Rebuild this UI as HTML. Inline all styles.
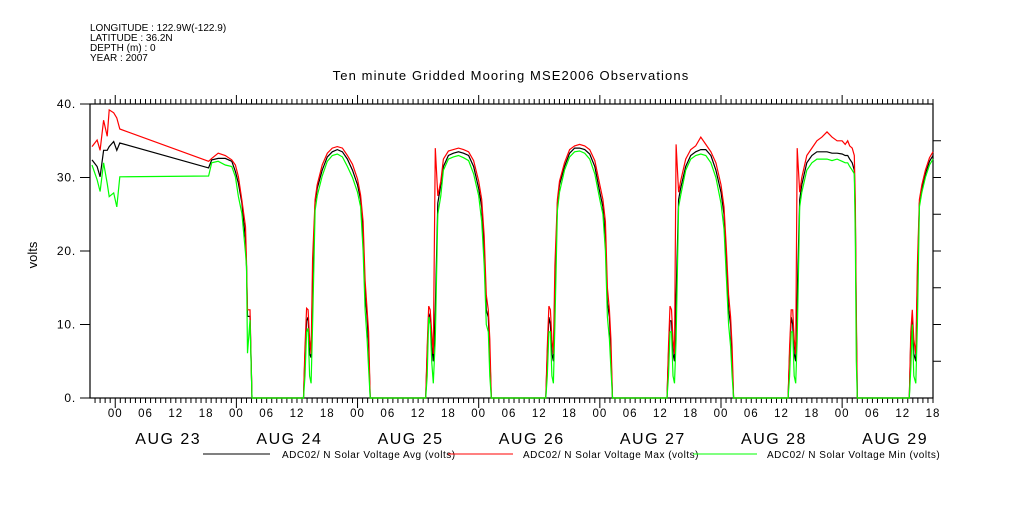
<!DOCTYPE html>
<html><head><meta charset="utf-8"><style>
body{margin:0;background:#fff;width:1009px;height:504px;overflow:hidden}
svg text{font-family:"Liberation Sans",sans-serif;fill:#000}
</style></head><body>
<svg id="chart" width="1009" height="504" viewBox="0 0 1009 504" xmlns="http://www.w3.org/2000/svg">
<g font-size="10">
<text x="90" y="31">LONGITUDE : 122.9W(-122.9)</text>
<text x="90" y="41">LATITUDE : 36.2N</text>
<text x="90" y="51">DEPTH (m) : 0</text>
<text x="90" y="61">YEAR : 2007</text>
</g>
<text x="511" y="80" font-size="13" letter-spacing="1.1" text-anchor="middle">Ten minute Gridded Mooring MSE2006 Observations</text>
<text x="37" y="255" font-size="13" text-anchor="middle" transform="rotate(-90 37 255)">volts</text>
<g id="axes"></g>
<g id="series"></g>
<g font-size="10" letter-spacing="0.5">
<line x1="203" y1="454" x2="270" y2="454" stroke="#000"/>
<text x="282" y="458">ADC02/ N Solar Voltage Avg (volts)</text>
<line x1="448" y1="454" x2="513" y2="454" stroke="#f00"/>
<text x="523" y="458">ADC02/ N Solar Voltage Max (volts)</text>
<line x1="693" y1="454" x2="757" y2="454" stroke="#0f0"/>
<text x="767" y="458">ADC02/ N Solar Voltage Min (volts)</text>
</g>
</svg>
<script>
// hours since AUG 23 00:00 2007
const hours = [
-4.6,-3.6,-3.0,-2.3,-1.6,-1.2,-0.3,0.3,0.9,18.5,19.1,20.4,21.8,23.1,23.8,24.4,25.1,25.8,26.0,26.2,26.7,27.1,
37.3,37.6,37.9,38.2,38.5,38.8,39.1,39.6,40,41,42,43,44,45,46,47,48,48.6,49.1,49.5,49.9,50.2,50.5,
61.5,61.8,62.1,62.4,62.7,63.0,63.4,63.9,64.5,65,66,67,68,69,70,71,72,72.6,73.1,73.5,73.9,74.2,74.5,
85.3,85.6,85.9,86.2,86.5,86.8,87.1,87.6,88,89,90,91,92,93,94,95,96,96.6,97.1,97.5,97.9,98.2,98.5,
109.3,109.6,109.9,110.2,110.5,110.8,111.1,111.6,112,113,114,115,116,117,118,119,120,120.6,121.1,121.5,121.9,122.2,122.5,
133.3,133.6,133.9,134.2,134.5,134.8,135.1,135.6,136,137,138,139,140,141,142,143,144,144.6,145.1,145.5,146.0,146.4,146.6,146.8,147.0,
157.3,157.6,157.9,158.2,158.6,158.9,159.3,159.8,160.5,161.3,162];
const avgVolts = [
32.4,31.5,30.1,33.7,33.7,34.2,34.9,33.7,34.7,31.3,32.4,32.6,32.6,32.2,30.8,29.2,26.5,21.5,17.9,11.1,11.1,0,
0,6,10.5,11,6,5.5,16,26.5,28.5,31,32.8,33.5,33.8,33.5,32.5,31,29,27,22,14,11,7,0,
0,6,11.5,11,7,5,12,26.5,29,31.5,33,33.3,33.5,33.3,33,31.5,28.5,26,20,12,11,6,0,
0,6,11,10,6,5,15,26.5,29,31.5,33.3,34,34,33.8,33.2,31.5,28,26,22,13,11,6,0,
0,6,10.5,10.5,6,5,14,27,28.5,31.5,33,33.5,33.8,33.8,33,31,28,25,18,12,10,5,0,
0,6,11,10,6,5,14,27,29,32,33,33.5,33.5,33.5,33.3,33.3,33.2,33,33,32.5,32,31,25,10,0,
0,8,11,6,5,16,26.5,28.5,30.5,32.2,33];
const maxVolts = [
34.2,35.1,33.7,37.8,35.6,39.2,38.8,38.1,36.6,32.2,32.6,33.3,33.0,32.4,31.7,30.1,26.9,23.3,18.5,12,12,0,
0,7,12.2,12,8,6,19,27,29,31.7,33.3,34,34.2,34,33,31.8,29.8,27.6,24,16,12,9,0,
0,7,12.5,12,9,6,34,27.5,29.5,32.5,33.6,33.8,34,33.8,33.5,32.3,29.5,27,22,14,12,8,0,
0,7,12.5,12,8,6,18,27,29.5,32,33.8,34.3,34.5,34.3,33.8,32.3,29,27,24,15,12,8,0,
0,7,12.5,12,8,6,34.5,28,29.5,32.5,33.8,34.3,35.5,34.5,33.5,32,29,26,20,14,11,7,0,
0,7,12,12,8,6,34,28,30,33,34,35,35.5,36.2,35.5,35,35,34.5,35,34.3,34,33,27,12,0,
0,9,12,8,6,18,27,29,31,32.7,33.5];
const minVolts = [
31.7,29.7,28.1,32,29.2,27.4,27.9,26,30.1,30.2,32,32.2,31.7,31.5,30.1,27.4,25.1,19.7,17.9,6.1,10.6,0,
0,3,9,9.5,3,2,10,25.5,27.5,30.2,32.2,33,33.2,32.8,31.5,30,28,26,20,12,8,4,0,
0,3,11,10,5,2,8,25,27.5,31,32.5,32.8,33,32.7,32.3,30.5,27.5,24,18,10,9,3,0,
0,3,9,9,3,2,10,25.5,28,31,32.8,33.5,33.6,33.3,32.5,30.5,27,25,20,11,8,4,0,
0,3,9,9,3,2,8,26,27.5,31,32.5,33,33.2,33,32,30,26.5,23,16,10,7,3,0,
0,3,9,9,3,2,8,26,28,31,32,32.5,32.5,32.5,32.3,32.5,32.2,32,32,31.5,31,30.5,22,5,0,
0,4,10,3,2,10,26,28,30,31.7,32.5];
const yTicks = [0,10,20,30,40];
const hourLabels = ["00","06","12","18"];
const dayLabels = ["AUG 23","AUG 24","AUG 25","AUG 26","AUG 27","AUG 28","AUG 29"];

const NS="http://www.w3.org/2000/svg";
const X0=90,X1=933,Y0=398,Y1=104,H0=-5,H1=162,V1=40;
function xs(h){return X0+(h-H0)/(H1-H0)*(X1-X0);}
function ys(v){return Y0-v/V1*(Y0-Y1);}
function mk(tag,attrs,parent){const e=document.createElementNS(NS,tag);for(const k in attrs)e.setAttribute(k,attrs[k]);parent.appendChild(e);return e;}
const axes=document.getElementById('axes');
let e;
e=mk('rect',{x:X0,y:Y1,width:X1-X0,height:Y0-Y1,fill:'none',stroke:'#000','stroke-width':1.2},axes);


for(let h=-4;h<=162;h++){
  const x=xs(h);const maj=(h%24===0);
  e=mk('line',{x1:x,y1:Y0,x2:x,y2:Y0+(maj?10:5),stroke:'#000'},axes);
  
  
  e=mk('line',{x1:x,y1:Y1,x2:x,y2:Y1-(maj?9:5),stroke:'#000'},axes);
  
  
}
for(let h=0;h<=162;h+=6){
  e=mk('text',{x:xs(h),y:417,'font-size':11.5,'letter-spacing':1,'text-anchor':'middle'},axes);
  e.textContent=hourLabels[(h/6)%4];
  
  
}
dayLabels.forEach((d,i)=>{
  e=mk('text',{x:xs(i*24+10.5),y:444,'font-size':16,'letter-spacing':1.5,'text-anchor':'middle'},axes);
  e.textContent=d;
  
  
});
yTicks.forEach(v=>{
  e=mk('line',{x1:X0-10,y1:ys(v),x2:X0,y2:ys(v),stroke:'#000'},axes);
  
  
  e=mk('text',{x:X0-14,y:ys(v)+4,'font-size':12,'letter-spacing':0.8,'text-anchor':'end'},axes);
  e.textContent=v+'.';
  
  
});
for(let v=5;v<40;v+=5){
  e=mk('line',{x1:X1,y1:ys(v),x2:X1+8,y2:ys(v),stroke:'#000'},axes);
  
  
}
const ser=document.getElementById('series');
[[avgVolts,'#000','avg-line'],[maxVolts,'#f00','max-line'],[minVolts,'#0f0','min-line']].forEach(([vals,c,n])=>{
  const d=vals.map((v,i)=>(i?'L':'M')+xs(hours[i]).toFixed(1)+' '+ys(v).toFixed(1)).join(' ');
  const p=mk('path',{d:d,fill:'none',stroke:c,'stroke-width':1.2},ser);
  
  
});
</script>
</body></html>
